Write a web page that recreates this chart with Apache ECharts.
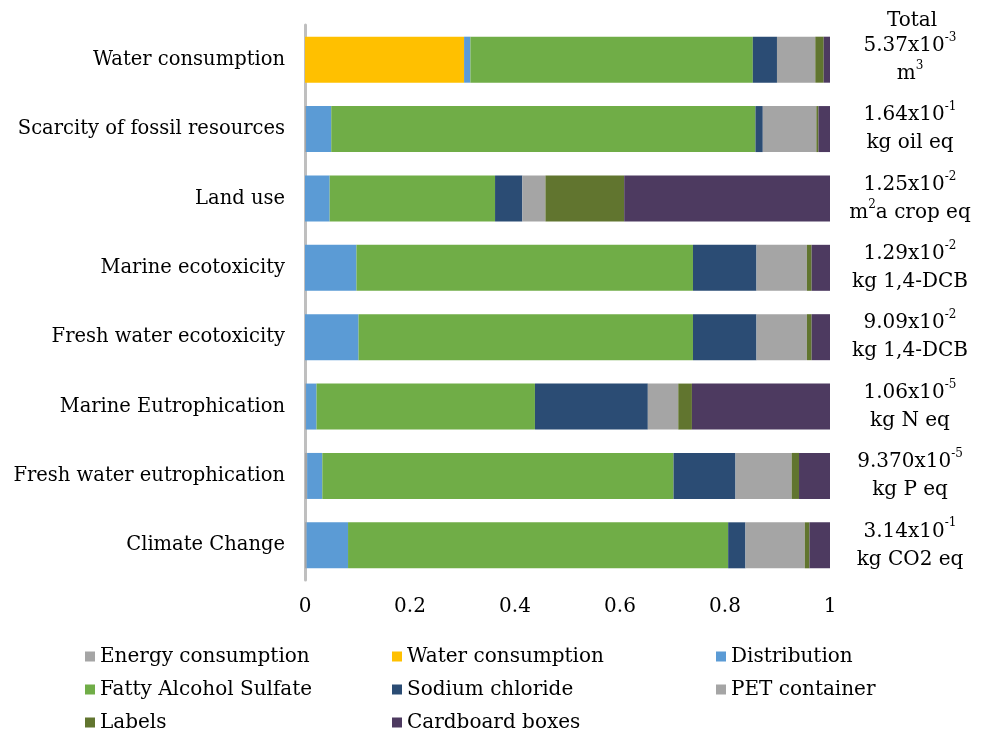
<!DOCTYPE html>
<html>
<head>
<meta charset="utf-8">
<script src="https://cdn.jsdelivr.net/npm/echarts@6/dist/echarts.min.js"></script>
<style>
  html, body { margin: 0; padding: 0; background: #fff; }
  #chart { width: 989px; height: 731px; }
</style>
</head>
<body>
<div id="chart"></div>
<script>
// impact categories, top to bottom
const categories = [
  'Water consumption',
  'Scarcity of fossil resources',
  'Land use',
  'Marine ecotoxicity',
  'Fresh water ecotoxicity',
  'Marine Eutrophication',
  'Fresh water eutrophication',
  'Climate Change'
]

// totals shown on the right
const totalValue = ['5.37x10', '1.64x10', '1.25x10', '1.29x10', '9.09x10', '1.06x10', '9.370x10', '3.14x10']
const totalExp = ['-3', '-1', '-2', '-2', '-2', '-5', '-5', '-1']
const totalUnit = ['m', 'kg oil eq', 'm', 'kg 1,4-DCB', 'kg 1,4-DCB', 'kg N eq', 'kg P eq', 'kg CO2 eq']
const totalUnitSup = ['3', '', '2', '', '', '', '', '']
const totalUnitRest = ['', '', 'a crop eq', '', '', '', '', '']

// relative contributions (same order as categories)
const energy = [0, 0.002, 0, 0, 0, 0.002, 0.004, 0.003]
const water = [0.303, 0, 0, 0, 0, 0, 0, 0]
const distribution = [0.012, 0.048, 0.047, 0.098, 0.102, 0.020, 0.029, 0.079]
const fattyAlcohol = [0.538, 0.808, 0.315, 0.641, 0.637, 0.416, 0.669, 0.724]
const sodiumChloride = [0.046, 0.014, 0.052, 0.121, 0.121, 0.215, 0.118, 0.033]
const petContainer = [0.073, 0.102, 0.044, 0.096, 0.096, 0.058, 0.107, 0.113]
const labels = [0.016, 0.004, 0.150, 0.009, 0.009, 0.026, 0.014, 0.009]
const cardboard = [0.012, 0.022, 0.392, 0.035, 0.035, 0.263, 0.059, 0.039]

const seriesNames = ['Energy consumption', 'Water consumption', 'Distribution', 'Fatty Alcohol Sulfate',
  'Sodium chloride', 'PET container', 'Labels', 'Cardboard boxes']
const seriesData = [energy, water, distribution, fattyAlcohol, sodiumChloride, petContainer, labels, cardboard]
const colors = ['#A5A5A5', '#FFC000', '#5B9BD5', '#70AD47', '#2B4C74', '#A5A5A5', '#61752F', '#4D3A60']

const font = 'DejaVu Serif'
const chart = echarts.init(document.getElementById('chart'))

const legendBase = {
  orient: 'vertical',
  top: 641,
  height: 120,
  itemWidth: 10,
  itemHeight: 10,
  itemGap: 12,
  icon: 'rect',
  selectedMode: false,
  textStyle: { fontFamily: font, fontSize: 20, color: '#000', lineHeight: 21 }
}

const option = {
  animation: false,
  color: colors,
  title: {
    text: 'Total',
    left: 882,
    top: 6,
    textStyle: { fontFamily: font, fontSize: 20, fontWeight: 'normal', color: '#000' }
  },
  grid: { left: 305, right: 159, top: 25, bottom: 151, containLabel: false },
  legend: [
    Object.assign({ left: 80, data: ['Energy consumption', 'Fatty Alcohol Sulfate', 'Labels'] }, legendBase),
    Object.assign({ left: 387, data: ['Water consumption', 'Sodium chloride', 'Cardboard boxes'] }, legendBase),
    Object.assign({ left: 711, data: ['Distribution', 'PET container'] }, legendBase)
  ],
  xAxis: {
    type: 'value',
    min: 0,
    max: 1,
    interval: 0.2,
    axisLine: { show: false },
    axisTick: { show: false },
    splitLine: { show: false },
    axisLabel: { fontFamily: font, fontSize: 20, color: '#000', margin: 17 }
  },
  yAxis: [
    {
      type: 'category',
      data: categories,
      inverse: true,
      axisTick: { show: false },
      axisLine: { lineStyle: { color: '#BFBFBF', width: 3 } },
      axisLabel: { fontFamily: font, fontSize: 19.5, color: '#000', margin: 20 }
    },
    {
      type: 'category',
      data: categories,
      inverse: true,
      position: 'right',
      axisTick: { show: false },
      axisLine: { show: false },
      axisLabel: {
        margin: 80,
        align: 'center',
        formatter: function (value, idx) {
          let line1 = '{t|' + totalValue[idx] + '}{s|' + totalExp[idx] + '}'
          let line2 = '{t|' + totalUnit[idx] + '}'
          if (totalUnitSup[idx]) line2 += '{s|' + totalUnitSup[idx] + '}'
          if (totalUnitRest[idx]) line2 += '{t|' + totalUnitRest[idx] + '}'
          return line1 + '\n' + line2
        },
        rich: {
          t: { fontFamily: font, fontSize: 20, color: '#000', lineHeight: 28 },
          s: { fontFamily: font, fontSize: 12, color: '#000', lineHeight: 28, verticalAlign: 'top', padding: [0, 0, 8, 0] }
        }
      }
    }
  ],
  series: seriesNames.map((name, i) => ({
    name: name,
    type: 'bar',
    stack: 'total',
    barWidth: 46,
    data: seriesData[i],
    itemStyle: { color: colors[i] }
  }))
}

chart.setOption(option)
</script>
</body>
</html>
